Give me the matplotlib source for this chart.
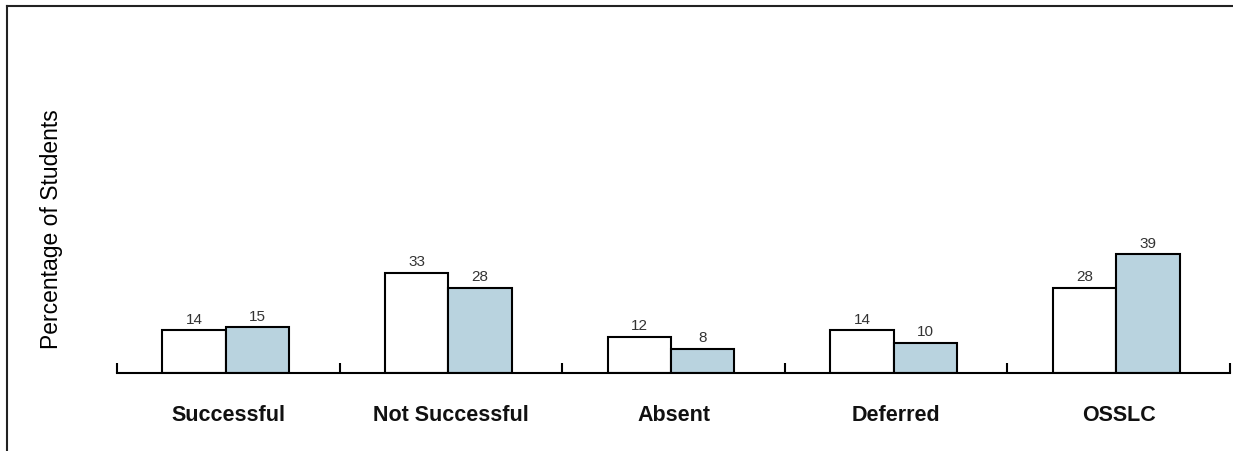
import matplotlib.pyplot as plt
from matplotlib.lines import Line2D
import numpy as np

plt.rcParams['font.family'] = ['Liberation Sans', 'DejaVu Sans']

categories = ['Successful', 'Not Successful', 'Absent', 'Deferred', 'OSSLC']
first = [14, 33, 12, 14, 28]
second = [15, 28, 8, 10, 39]

fig = plt.figure(figsize=(12.33, 4.52), dpi=100)
ax = fig.add_axes([117/1233, 78/452, 1113/1233, 304/452])

x = np.arange(len(categories))
w = 0.285
shift = -0.011  # the pairs sit a touch left of the category centre
b1 = ax.bar(x - w/2 + shift, first, w, color='white', edgecolor='black', linewidth=1.5)
b2 = ax.bar(x + w/2 + shift, second, w, color='#b9d3df', edgecolor='black', linewidth=1.5)

for bars, vals in [(b1, first), (b2, second)]:
    for r, v in zip(bars, vals):
        ax.text(r.get_x() + r.get_width()/2, v + 1.5, str(v), ha='center', va='bottom',
                fontsize=11, color='#333333')

ax.set_xlim(-0.5, len(categories) - 0.5)
ax.set_ylim(0, 100)

# boundaries get the little upward ticks, centres get the names
ax.set_xticks(np.arange(len(categories) + 1) - 0.5)
ax.set_xticklabels([])
ax.tick_params(axis='x', which='major', direction='in', length=7, width=1.5, color='black')
ax.set_xticks(x, categories, minor=True)
ax.tick_params(axis='x', which='minor', length=0, pad=22, labelsize=15.5)
for t in ax.get_xticklabels(minor=True):
    t.set_fontweight('bold')
    t.set_color('#111111')

ax.set_yticks([])
for s in ['left', 'top', 'right']:
    ax.spines[s].set_visible(False)
ax.spines['bottom'].set_linewidth(1.5)

fig.text(52/1233, 1 - 229/452, 'Percentage of Students', rotation=90,
         ha='center', va='center', fontsize=16.5, color='black')

# frame around the picture (right and bottom are cut off)
fig.add_artist(Line2D([7/1233, 7/1233], [0, 1 - 6.5/452], color='#222222', linewidth=1.5,
                      transform=fig.transFigure))
fig.add_artist(Line2D([7/1233, 1], [1 - 6.5/452, 1 - 6.5/452], color='#222222', linewidth=1.5,
                      transform=fig.transFigure))

fig.savefig('out.png', dpi=100)
